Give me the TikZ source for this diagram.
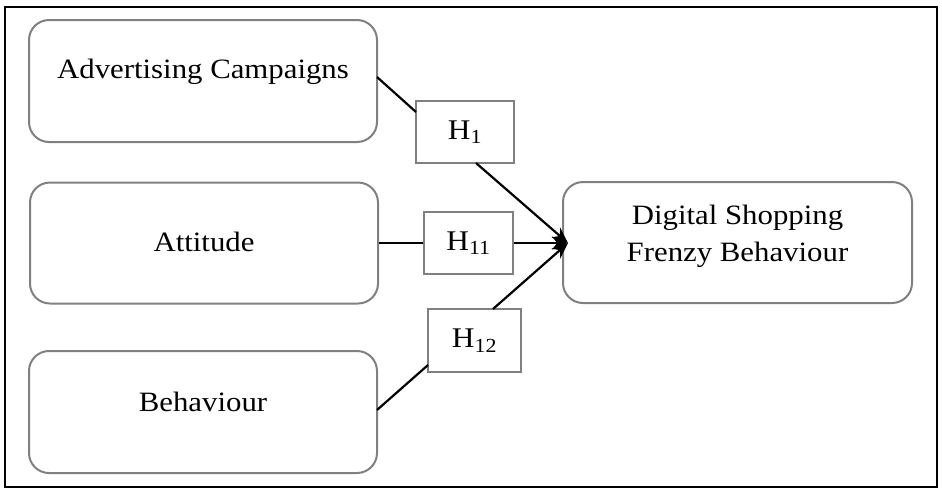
\documentclass[tikz,border=0pt]{standalone}
\usepackage{fontspec}
\setmainfont{Liberation Serif}[FakeStretch=1.1]
\usetikzlibrary{arrows.meta}
\begin{document}
\begin{tikzpicture}[x=1pt,y=-1pt,
  varbox/.style={draw=black!50,line width=2pt,rounded corners=20pt,inner sep=0pt},
  hbox/.style={draw=black!50,line width=2pt,inner sep=0pt},
  lbl/.style={font=\fontsize{28}{37}\selectfont,align=center,inner sep=0pt},
  hlbl/.style={font=\fontsize{28.5}{30}\selectfont,inner sep=0pt},
  conn/.style={line width=2.2pt,black},
  arr/.style={conn,-{Stealth[length=16pt,width=13pt]}}]
\useasboundingbox (0,0) rectangle (942,491);
\draw[line width=2.2pt] (5,7) rectangle (937,487);
% variable boxes
\node[varbox,minimum width=348pt,minimum height=122pt] (ac) at (203,81) {};
\node[varbox,minimum width=348pt,minimum height=121pt] (at) at (204,243) {};
\node[varbox,minimum width=348pt,minimum height=122pt] (be) at (203,412) {};
\node[varbox,minimum width=349pt,minimum height=121pt] (ds) at (737.5,242.5) {};
\node[lbl] (acl) at (203,72) {Advertising Campaigns};
\node[lbl] (atl) at (204,242) {Attitude};
\node[lbl] (bel) at (203,402) {Behaviour};
\node[lbl] (dsl) at (737.5,236) {Digital Shopping\\Frenzy Behaviour};
% hypothesis boxes
\node[hbox,minimum width=98pt,minimum height=62pt] (h1) at (465,132) {};
\node[hbox,minimum width=89pt,minimum height=62pt] (h11) at (468.5,243) {};
\node[hbox,minimum width=93pt,minimum height=63pt] (h12) at (474.5,340.5) {};
\node[hlbl] at (h1.center) {H\textsubscript{1}};
\node[hlbl] at (h11.center) {H\textsubscript{11}};
\node[hlbl] at (h12.center) {H\textsubscript{12}};
% connectors
\coordinate (tip) at (568,243);
\draw[conn] (377,77) -- (416,112);
\draw[arr] (476,163) -- (tip);
\draw[conn] (at.east) -- (h11.west);
\draw[arr] (h11.east) -- (tip);
\draw[conn] (377,410) -- (428,365);
\draw[arr] (493,309) -- (tip);
\end{tikzpicture}
\end{document}
